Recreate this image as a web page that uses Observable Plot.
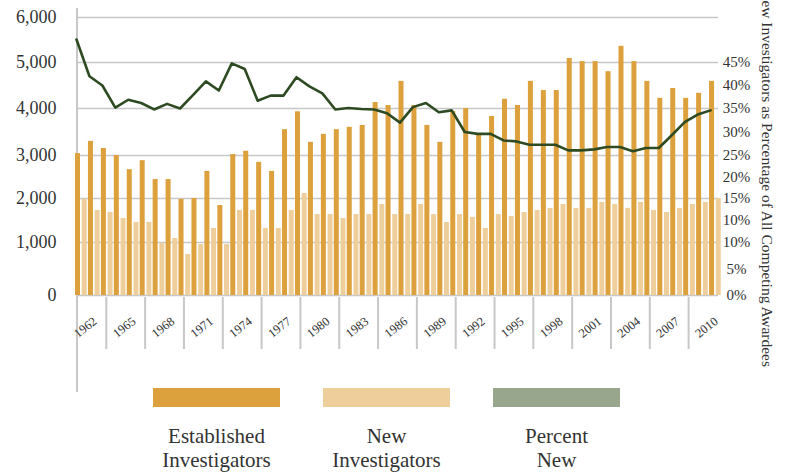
<!DOCTYPE html>
<html>
<head>
<meta charset="utf-8">
<script src="https://cdn.jsdelivr.net/npm/d3@7"></script>
<script src="https://cdn.jsdelivr.net/npm/@observablehq/plot@0.6"></script>
<style>
  body { margin: 0; background: #fff; font-family: "Liberation Serif", serif; color: #333; }
  #chart svg { overflow: visible; }
  #legend { position: relative; width: 785px; height: 87px; }
  .sw { position: absolute; top: 3px; width: 127px; height: 19px; }
  .lab { position: absolute; top: 39px; width: 200px; text-align: center; font-size: 21px; line-height: 24px; color: #333; }
</style>
</head>
<body>
<div id="chart"></div>
<div id="legend"></div>
<script>
// ---- data ----
const years = [1961,1962,1963,1964,1965,1966,1967,1968,1969,1970,
               1971,1972,1973,1974,1975,1976,1977,1978,1979,1980,
               1981,1982,1983,1984,1985,1986,1987,1988,1989,1990,
               1991,1992,1993,1994,1995,1996,1997,1998,1999,2000,
               2001,2002,2003,2004,2005,2006,2007,2008,2009,2010];
const established = [3040,3300,3150,3000,2670,2880,2440,2440,1980,2000,
                     2630,1840,3020,3090,2840,2630,3550,3930,3280,3450,
                     3550,3600,3640,4130,4065,4590,4065,3640,3280,3935,
                     4000,3450,3830,4200,4065,4590,4390,4390,5090,5020,
                     5020,4800,5360,5020,4590,4220,4435,4220,4330,4590];
const newInvestigators = [1980,1730,1680,1545,1455,1455,980,1090,775,960,
                          1320,960,1730,1730,1320,1320,1730,2115,1635,1635,
                          1545,1635,1635,1865,1635,1635,1865,1635,1455,1635,
                          1570,1320,1635,1590,1680,1730,1775,1865,1775,1775,
                          1910,1865,1775,1910,1730,1680,1775,1865,1910,2000];
const percentNew = [50.1,42.0,40.0,35.2,36.9,36.2,34.8,36.0,35.0,37.9,
                    40.9,38.9,44.8,43.6,36.7,37.8,37.8,41.8,39.8,38.3,
                    34.8,35.1,34.9,34.8,34.0,32.0,35.3,36.2,34.2,34.6,
                    30.0,29.6,29.6,28.2,28.0,27.3,27.3,27.3,26.1,26.1,
                    26.3,26.8,26.8,25.9,26.6,26.6,29.3,32.1,33.7,34.6];
const leftTicks = [0,1000,2000,3000,4000,5000,6000];
const rightTickValues = [0,500,1000,1500,2000,2500,3000,3500,4000,4500,5000];
const rightTickLabels = ["0%","5%","10%","10%","15%","20%","25%","30%","35%","40%","45%"];
const xLabelYears = [1962,1965,1968,1971,1974,1977,1980,1983,1986,1989,1992,1995,1998,2001,2004,2007,2010];
const xTickYears = [1964,1967,1970,1973,1976,1979,1982,1985,1988,1991,1994,1997,2000,2003,2006,2009];
const seriesNames = ["Established Investigators","New Investigators","Percent New"];
const rightTitle = "New Investigators as Percentage of All Competing Awardees";

const colors = {est: "#DCA03C", neu: "#EECF9C", line: "#2E4A22", legendLine: "#97A68D", grid: "#C8C8C8", text: "#333"};

const estData = years.map((y, i) => ({year: y, value: established[i]}));
const newData = years.map((y, i) => ({year: y, value: newInvestigators[i]}));
// dual axis: right labels map percent p to left units (p+5)*100
const lineData = years.map((y, i) => ({year: y, pct: percentNew[i]}));

const W = 785, H = 385;

const chart = Plot.plot({
  width: W,
  height: H,
  marginLeft: 77,
  marginRight: 67,
  marginTop: 8,
  marginBottom: 90,
  style: {fontFamily: "Liberation Serif, serif", color: colors.text, background: "#fff", overflow: "visible"},
  x: {type: "linear", domain: [1961, 2011], range: [75, 722], axis: null},
  y: {type: "linear", domain: [0,1000,2000,3000,4000,5000,6000], range: [295,242,198,155,108,62,17], axis: null},
  marks: [
    Plot.ruleY(leftTicks, {y: d => d, stroke: colors.grid, strokeWidth: 1.6}),
    Plot.ruleX([1961], {x: d => d, dx: 1.5, stroke: colors.grid, strokeWidth: 2, insetBottom: -97}),
    Plot.ruleX(xTickYears, {x: d => d, dx: -8, stroke: colors.grid, strokeWidth: 2, insetTop: 289, insetBottom: -54}),
    Plot.rect(estData, {x1: "year", x2: d => d.year + 1, y1: 0, y2: "value", fill: colors.est, insetLeft: 0, insetRight: 7.94}),
    Plot.rect(newData, {x1: "year", x2: d => d.year + 1, y1: 0, y2: "value", fill: colors.neu, insetLeft: 6.7, insetRight: 1.24}),
    Plot.line(lineData, {x: "year", y: d => (d.pct + 5) * 100, dx: 1, stroke: colors.line, strokeWidth: 2.6, strokeLinejoin: "round"}),
    Plot.text(leftTicks, {y: d => d, text: d => d3.format(",")(d), frameAnchor: "left", textAnchor: "end", dx: -21, fontSize: 18, fill: colors.text}),
    Plot.text(rightTickValues, {y: d => d, text: (d, i) => rightTickLabels[i], frameAnchor: "right", textAnchor: "middle", dx: 18, fontSize: 15, fill: colors.text}),
    Plot.text(xLabelYears, {x: d => d + 0.5, text: d => String(d), frameAnchor: "bottom", textAnchor: "middle", dx: -7, dy: 35, rotate: -38, fontSize: 12.5, fill: colors.text}),
    Plot.text([rightTitle], {frameAnchor: "right", text: d => d, textAnchor: "end", rotate: 90, dx: 48, dy: 215, fontSize: 15.5, fill: colors.text})
  ]
});
document.getElementById("chart").appendChild(chart);

// legend
const legend = document.getElementById("legend");
const legendColors = [colors.est, colors.neu, colors.legendLine];
const legendLeft = [153, 323, 493];
const legendLines = [["Established","Investigators"],["New","Investigators"],["Percent","New"]];
seriesNames.forEach((name, i) => {
  const sw = document.createElement("div");
  sw.className = "sw";
  sw.style.left = legendLeft[i] + "px";
  sw.style.background = legendColors[i];
  sw.title = name;
  legend.appendChild(sw);
  const lab = document.createElement("div");
  lab.className = "lab";
  lab.style.left = (legendLeft[i] + 63.5 - 100) + "px";
  lab.innerHTML = legendLines[i].join("<br>");
  legend.appendChild(lab);
});
</script>
</body>
</html>
